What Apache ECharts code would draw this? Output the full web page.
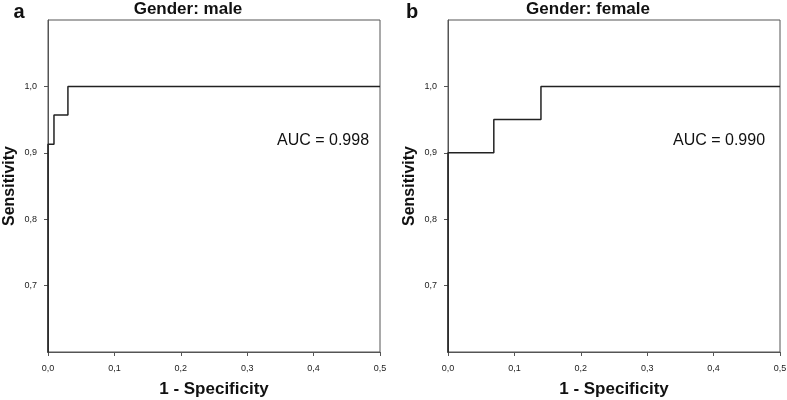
<!DOCTYPE html>
<html>
<head>
<meta charset="utf-8">
<script src="https://cdn.jsdelivr.net/npm/echarts@6/dist/echarts.min.js"></script>
<style>html,body{margin:0;padding:0;background:#fff;}#c{width:787px;height:400px;}</style>
</head>
<body>
<div id="c"></div>
<script>
// ROC data (1 - specificity, sensitivity)
const maleFpr = [0, 0, 0.009, 0.009, 0.03, 0.03, 0.5];
const maleTpr = [0, 0.913, 0.913, 0.957, 0.957, 1.0, 1.0];
const femaleFpr = [0, 0, 0.069, 0.069, 0.14, 0.14, 0.5];
const femaleTpr = [0, 0.9, 0.9, 0.95, 0.95, 1.0, 1.0];
const xTicks = [0, 0.1, 0.2, 0.3, 0.4, 0.5];
const yTicks = [0.7, 0.8, 0.9, 1.0];
const panelTitles = ['Gender: male', 'Gender: female'];
const panelLetters = ['a', 'b'];
const aucLabels = ['AUC = 0.998', 'AUC = 0.990'];

const fmt = v => v.toFixed(1).replace('.', ',');
const zip = (a, b) => a.map((v, i) => [v, b[i]]);

const axisColor = '#555';
function xAxis(gi) {
  return {
    gridIndex: gi, type: 'value', min: 0, max: 0.5, interval: 0.1,
    name: '1 - Specificity', nameLocation: 'middle', nameGap: 29,
    nameTextStyle: { fontFamily: 'Liberation Sans', fontWeight: 'bold', fontSize: 17, color: '#111' },
    axisLine: { show: true, lineStyle: { color: axisColor, width: 1 } },
    axisTick: { show: true, length: 4, lineStyle: { color: axisColor } , customValues: xTicks},
    axisLabel: { fontFamily: 'Liberation Sans', fontSize: 9, color: '#222', margin: 12, formatter: fmt, customValues: xTicks },
    splitLine: { show: false }
  };
}
function yAxis(gi) {
  return {
    gridIndex: gi, type: 'value', min: 0.6, max: 1.1, interval: 0.1,
    name: 'Sensitivity', nameLocation: 'middle', nameGap: 30,
    nameTextStyle: { fontFamily: 'Liberation Sans', fontWeight: 'bold', fontSize: 16, color: '#111' },
    axisLine: { show: true, lineStyle: { color: axisColor, width: 1 } },
    axisTick: { show: true, length: 4, lineStyle: { color: axisColor }, customValues: yTicks },
    axisLabel: { fontFamily: 'Liberation Sans', fontSize: 9, color: '#222', margin: 11, formatter: fmt, customValues: yTicks },
    splitLine: { show: false }
  };
}
const chart = echarts.init(document.getElementById('c'), null, { renderer: 'canvas' });
const txt = (x, y, t, size, weight, align) => ({
  type: 'text', x: x, y: y,
  style: { text: t, fontFamily: 'Liberation Sans', fontSize: size, fontWeight: weight, fill: '#111', align: align || 'left', verticalAlign: 'middle' }
});
chart.setOption({
  animation: false,
  grid: [
    { left: 48, right: 407, top: 20, bottom: 48, outerBoundsMode: 'none', containLabel: false, show: true, borderColor: axisColor, borderWidth: 1, backgroundColor: '#fff' },
    { left: 448, right: 7, top: 20, bottom: 48, outerBoundsMode: 'none', containLabel: false, show: true, borderColor: axisColor, borderWidth: 1, backgroundColor: '#fff' }
  ],
  xAxis: [xAxis(0), xAxis(1)],
  yAxis: [yAxis(0), yAxis(1)],
  series: [
    { type: 'line', xAxisIndex: 0, yAxisIndex: 0, data: zip(maleFpr, maleTpr), symbol: 'none', clip: true, lineStyle: { color: '#222', width: 1.5 } },
    { type: 'line', xAxisIndex: 1, yAxisIndex: 1, data: zip(femaleFpr, femaleTpr), symbol: 'none', clip: true, lineStyle: { color: '#222', width: 1.5 } }
  ],
  graphic: [
    txt(19, 12, panelLetters[0], 20, 'bold', 'center'),
    txt(412, 12, panelLetters[1], 20, 'bold', 'center'),
    txt(188, 9, panelTitles[0], 17, 'bold', 'center'),
    txt(588, 9, panelTitles[1], 17, 'bold', 'center'),
    txt(277, 141, aucLabels[0], 16, 'normal', 'left'),
    txt(673, 141, aucLabels[1], 16, 'normal', 'left')
  ]
});
</script>
</body>
</html>
